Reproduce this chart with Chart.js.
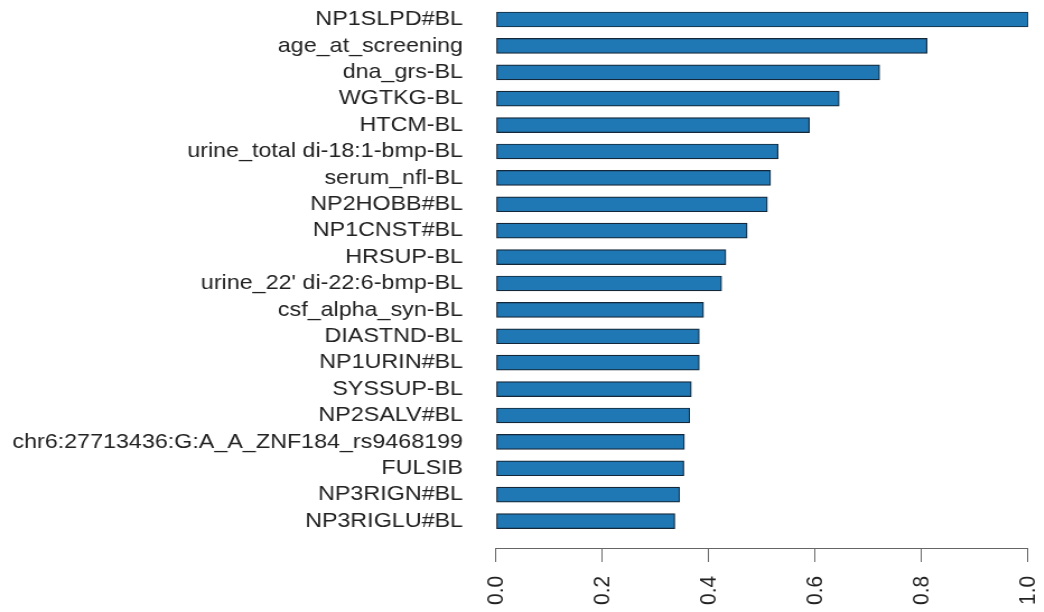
<!DOCTYPE html>
<html>
<head>
<meta charset="utf-8">
<script src="https://cdn.jsdelivr.net/npm/chart.js@4.4.1/dist/chart.umd.min.js"></script>
<style>
    html, body { margin: 0; padding: 0; background: #fff; overflow: hidden; }
    #wrap { position: relative; width: 932px; height: 612px; transform: scaleX(1.12); transform-origin: 0 0; }
</style>
</head>
<body>
<div id="wrap"><canvas id="importance"></canvas></div>
<script>
const features = [
    'NP1SLPD#BL',
    'age_at_screening',
    'dna_grs-BL',
    'WGTKG-BL',
    'HTCM-BL',
    'urine_total di-18:1-bmp-BL',
    'serum_nfl-BL',
    'NP2HOBB#BL',
    'NP1CNST#BL',
    'HRSUP-BL',
    "urine_22' di-22:6-bmp-BL",
    'csf_alpha_syn-BL',
    'DIASTND-BL',
    'NP1URIN#BL',
    'SYSSUP-BL',
    'NP2SALV#BL',
    'chr6:27713436:G:A_A_ZNF184_rs9468199',
    'FULSIB',
    'NP3RIGN#BL',
    'NP3RIGLU#BL'
];
const importance = [1.0, 0.810, 0.721, 0.645, 0.589, 0.530, 0.516, 0.510, 0.472, 0.432,
    0.424, 0.390, 0.382, 0.382, 0.367, 0.364, 0.354, 0.353, 0.345, 0.336];
const xTicks = [0, 0.2, 0.4, 0.6, 0.8, 1.0];

const font = { family: '"Liberation Sans", Arial, sans-serif', size: 20.8 };
const textColor = '#222';
const axisColor = '#666';

const ctx = document.getElementById('importance').getContext('2d');
new Chart(ctx, {
    type: 'bar',
    data: {
        datasets: [{
            data: importance.map((v, i) => ({ x: v, y: i })),
            backgroundColor: '#1f77b4',
            borderColor: '#15283a',
            borderWidth: 1.2,
            borderSkipped: false,
            barThickness: 15
        }]
    },
    options: {
        indexAxis: 'y',
        responsive: true,
        maintainAspectRatio: false,
        animation: false,
        layout: { padding: { top: 6.3, right: 14.1, bottom: 0, left: 0 } },
        plugins: {
            legend: { display: false },
            tooltip: { enabled: false }
        },
        scales: {
            x: {
                type: 'linear',
                min: 0,
                max: 1,
                afterBuildTicks: scale => { scale.ticks = xTicks.map(v => ({ value: v })); },
                afterFit: scale => {
                    // fixed axis band under the plot, no extra edge padding for the rotated labels
                    scale.height = 612 - 548;
                    scale.paddingLeft = 0;
                    scale.paddingRight = 0;
                },
                grid: { display: true, drawOnChartArea: false, drawTicks: true, tickLength: 14, color: axisColor },
                border: { display: true, color: axisColor, width: 1 },
                ticks: {
                    minRotation: 90,
                    maxRotation: 90,
                    padding: 14,
                    color: textColor,
                    font: font,
                    callback: v => v.toFixed(1)
                }
            },
            y: {
                type: 'linear',
                reverse: true,
                offset: false,
                min: -0.5,
                max: 20.02,
                afterBuildTicks: scale => { scale.ticks = features.map((_, i) => ({ value: i })); },
                afterFit: scale => {
                    scale.width = 442.9;
                    scale.paddingTop = 0;
                    scale.paddingBottom = 0;
                },
                grid: { display: false, drawTicks: false, offset: false },
                border: { display: false },
                ticks: {
                    padding: 29.5,
                    color: textColor,
                    font: font,
                    autoSkip: false,
                    callback: v => features[v]
                }
            }
        }
    }
});
</script>
</body>
</html>
